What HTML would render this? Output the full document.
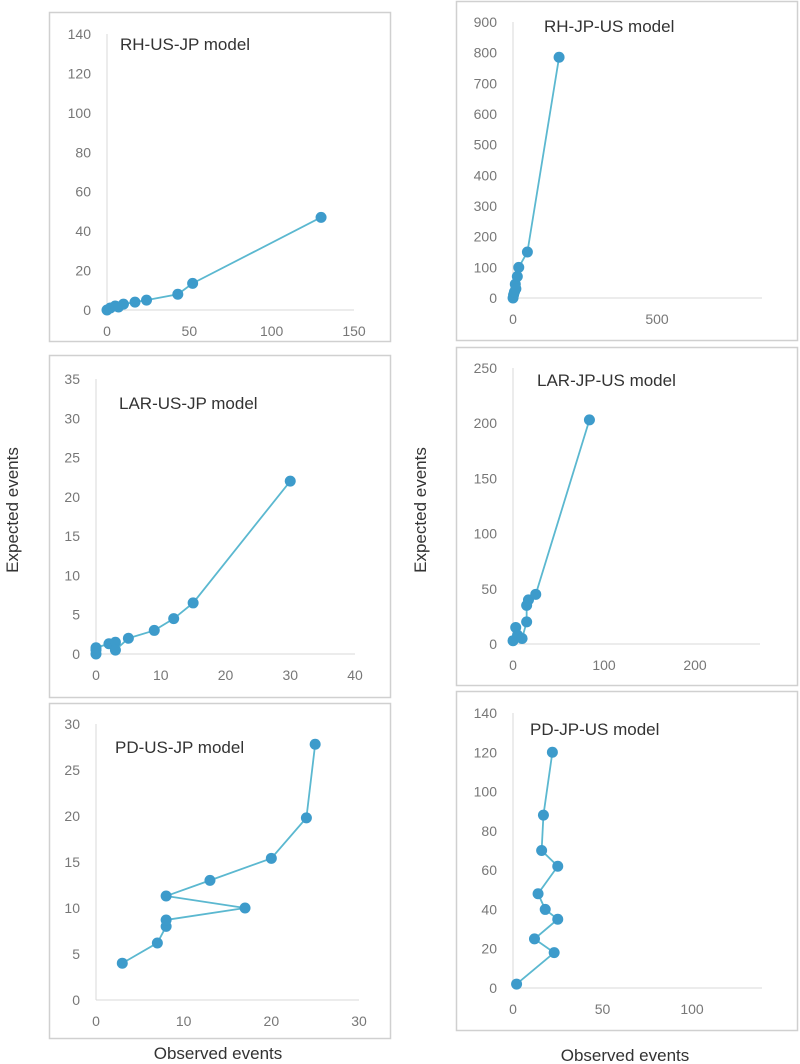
<!DOCTYPE html>
<html><head><meta charset="utf-8"><style>
body{margin:0;background:#fff;width:800px;height:1064px;overflow:hidden;font-family:"Liberation Sans",sans-serif}
svg{display:block}
</style></head><body>
<svg id="fig" width="800" height="1064" xmlns="http://www.w3.org/2000/svg">
<text x="18" y="510" transform="rotate(-90 18 510)" text-anchor="middle" font-size="17" fill="#333">Expected events</text>
<text x="426" y="510" transform="rotate(-90 426 510)" text-anchor="middle" font-size="17" fill="#333">Expected events</text>
<text x="218" y="1059" text-anchor="middle" font-size="17" fill="#333">Observed events</text>
<text x="625" y="1061" text-anchor="middle" font-size="17" fill="#333">Observed events</text>
</svg>
<script>
const p1X=[0,2,5,7,10,17,24,43,52,130];
const p1Y=[0,1,2,1.5,3,4,5,8,13.5,47];
const p2X=[0,0,0,2,3,3,5,9,12,15,30];
const p2Y=[0,0.5,0.8,1.3,1.5,0.5,2,3,4.5,6.5,22];
const p3X=[3,7,8,8,17,8,13,20,24,25];
const p3Y=[4,6.2,8,8.7,10,11.3,13,15.4,19.8,27.8];
const r1X=[0,2,5,8,10,15,20,50,160];
const r1Y=[0,10,20,45,30,70,100,150,785];
const r2X=[0,3,5,10,15,15,17,25,84];
const r2Y=[3,15,8,5,20,35,40,45,203];
const r3X=[2,23,12,25,18,14,25,16,17,22];
const r3Y=[2,18,25,35,40,48,62,70,88,120];
const p1XT=[0,50,100,150], p1YT=[0,20,40,60,80,100,120,140];
const p2XT=[0,10,20,30,40], p2YT=[0,5,10,15,20,25,30,35];
const p3XT=[0,10,20,30], p3YT=[0,5,10,15,20,25,30];
const r1XT=[0,500], r1YT=[0,100,200,300,400,500,600,700,800,900];
const r2XT=[0,100,200], r2YT=[0,50,100,150,200,250];
const r3XT=[0,50,100], r3YT=[0,20,40,60,80,100,120,140];

const NS="http://www.w3.org/2000/svg";
const svg=document.getElementById('fig');
function mk(t,a,parent){const e=document.createElementNS(NS,t);for(const k in a)e.setAttribute(k,a[k]);(parent||svg).appendChild(e);return e;}

const panels=[
 {name:'rh-us-jp',title:'RH-US-JP model',box:[49,12,341,329],x0:107,x1:354,xmax:150,xEnd:354,y0:310,y1:34,ymax:140,X:p1X,Y:p1Y,XT:p1XT,YT:p1YT,tx:120,ty:50},
 {name:'lar-us-jp',title:'LAR-US-JP model',box:[49,355,341,342],x0:96,x1:355,xmax:40,xEnd:355,y0:654,y1:379,ymax:35,X:p2X,Y:p2Y,XT:p2XT,YT:p2YT,tx:119,ty:409},
 {name:'pd-us-jp',title:'PD-US-JP model',box:[49,703,341,335],x0:96,x1:359,xmax:30,xEnd:359,y0:1000,y1:724,ymax:30,X:p3X,Y:p3Y,XT:p3XT,YT:p3YT,tx:115,ty:753},
 {name:'rh-jp-us',title:'RH-JP-US model',box:[456,1,341,339],x0:513,x1:657,xmax:500,xEnd:762,y0:298,y1:22,ymax:900,X:r1X,Y:r1Y,XT:r1XT,YT:r1YT,tx:544,ty:32},
 {name:'lar-jp-us',title:'LAR-JP-US model',box:[456,347,341,338],x0:513,x1:695,xmax:200,xEnd:760,y0:644,y1:368,ymax:250,X:r2X,Y:r2Y,XT:r2XT,YT:r2YT,tx:537,ty:386},
 {name:'pd-jp-us',title:'PD-JP-US model',box:[456,691,341,339],x0:513,x1:692,xmax:100,xEnd:762,y0:988,y1:713,ymax:140,X:r3X,Y:r3Y,XT:r3XT,YT:r3YT,tx:530,ty:735}
];
panels.forEach(p=>{
 const g=mk('g',{});
 
 
 const b=mk('rect',{x:p.box[0]+0.5,y:p.box[1]+0.5,width:p.box[2],height:p.box[3],fill:'#fff',stroke:'#d0d0d0','stroke-width':1.5},g);
 
 
 const sx=v=>p.x0+(p.x1-p.x0)*v/p.xmax;
 const sy=v=>p.y0+(p.y1-p.y0)*v/p.ymax;
 const ya=mk('line',{x1:p.x0,y1:p.y0,x2:p.x0,y2:p.y1,stroke:'#d9d9d9','stroke-width':1},g);
 
 
 const xa=mk('line',{x1:p.x0,y1:p.y0,x2:p.xEnd,y2:p.y0,stroke:'#d9d9d9','stroke-width':1},g);
 
 
 p.YT.forEach(v=>{const t=mk('text',{x:p.x0-16,y:sy(v)+5,'text-anchor':'end','font-size':14,fill:'#777'},g);t.textContent=v;
  
  });
 p.XT.forEach(v=>{const t=mk('text',{x:sx(v),y:p.y0+26,'text-anchor':'middle','font-size':14,fill:'#777'},g);t.textContent=v;
  
  });
 const tt=mk('text',{x:p.tx,y:p.ty,'font-size':17,fill:'#333'},g);tt.textContent=p.title;
 
 
 const pts=p.X.map((x,i)=>sx(x)+','+sy(p.Y[i])).join(' ');
 const l=mk('polyline',{points:pts,fill:'none',stroke:'#5bb8d0','stroke-width':1.8},g);
 
 
 p.X.forEach((x,i)=>{const c=mk('circle',{cx:sx(x),cy:sy(p.Y[i]),r:5.5,fill:'#3d9bcb'},g);
  
  });
});
</script>
</body></html>
